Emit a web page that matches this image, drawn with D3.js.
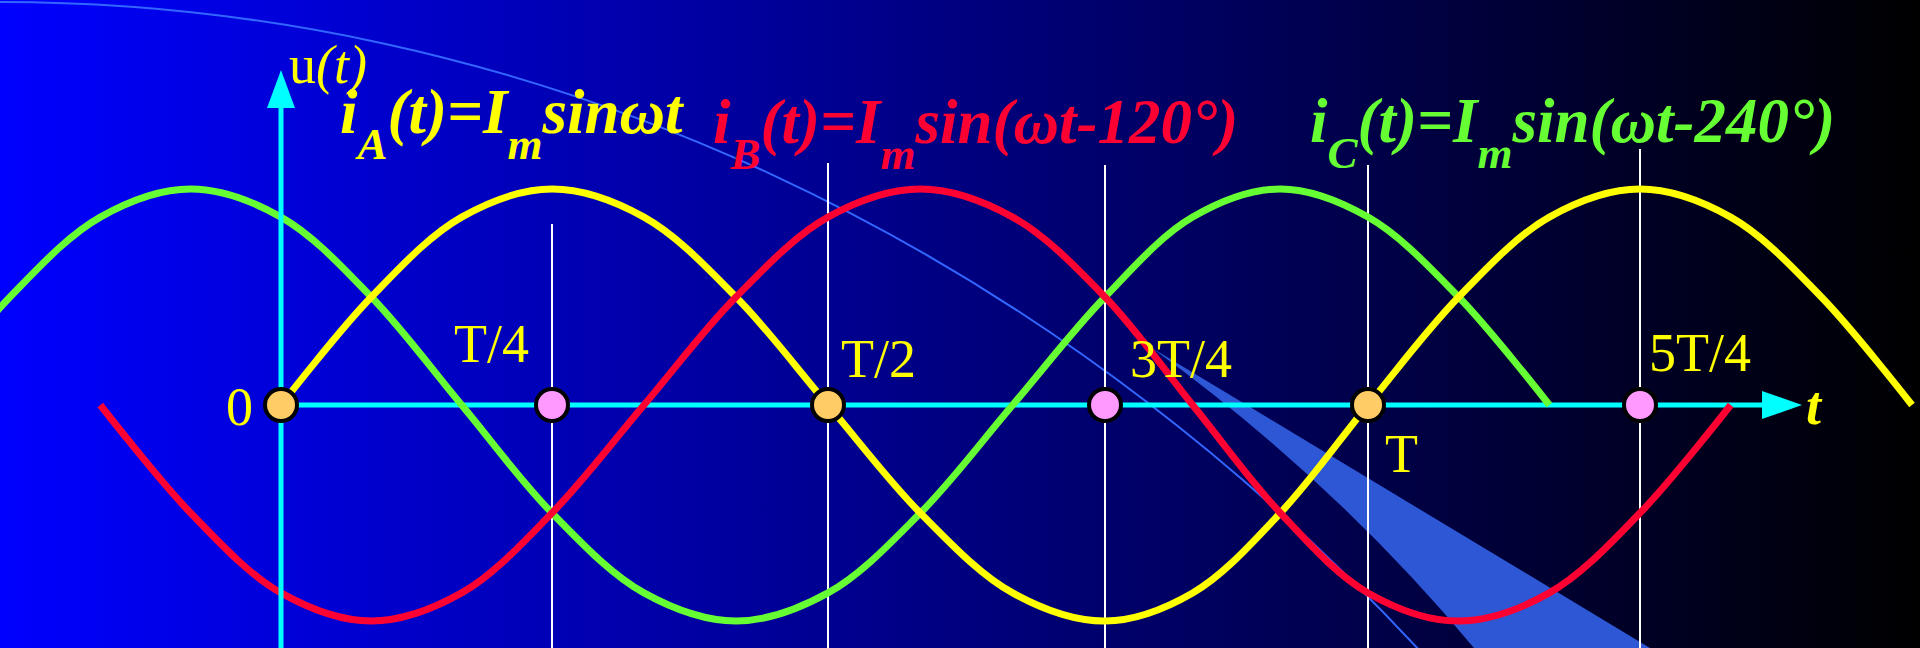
<!DOCTYPE html>
<html>
<head>
<meta charset="utf-8">
<script src="https://cdn.jsdelivr.net/npm/d3@7"></script>
<style>
  html, body { margin: 0; padding: 0; overflow: hidden; background: #000; }
</style>
</head>
<body>
<div id="chart"></div>
<script>
/* DATA */
// tick positions in periods, and their labels
const tTicks = [0, 0.25, 0.5, 0.75, 1, 1.25];
const tickLabels = ["0", "T/4", "T/2", "3T/4", "T", "5T/4"];

// the three phase currents, values read every T/12 (30 degrees)
const stepT = 1 / 12;
const phaseNames = ["A", "B", "C"];
const phaseShift = ["", "-120°", "-240°"];
const startA = 0;
const valuesA = [0, .5, .87, 1, .87, .5, 0, -.5, -.87, -1, -.87, -.5, 0, .5, .87, 1, .87, .5, 0];
const startB = -2 / 12;
const valuesB = [0, -.5, -.87, -1, -.87, -.5, 0, .5, .87, 1, .87, .5, 0, -.5, -.87, -1, -.87, -.5, 0];
const startC = -4 / 12;
const valuesC = [0, .5, .87, 1, .87, .5, 0, -.5, -.87, -1, -.87, -.5, 0, .5, .87, 1, .87, .5, 0];

/* LAYOUT */
const width = 1920, height = 648;
const axisY = 405, amp = 216;
const colors = { A: "#ffff00", B: "#ff0033", C: "#66ff33" };
const guideTop = [null, 224, 163, 165, 165, 149];
const labelOffset = {
  "0":    { dx: -28, dy: 20, anchor: "end" },
  "T/4":  { dx: -23, dy: -43, anchor: "end" },
  "T/2":  { dx: 13, dy: -28, anchor: "start" },
  "3T/4": { dx: 25, dy: -28, anchor: "start" },
  "T":    { dx: 17, dy: 67, anchor: "start" },
  "5T/4": { dx: 9, dy: -34, anchor: "start" }
};

const svg = d3.select("#chart")
  .append("svg")
  .attr("width", width)
  .attr("height", height);

const defs = svg.append("defs");
const grad = defs.append("linearGradient")
  .attr("id", "bg")
  .attr("x1", "0%").attr("x2", "100%")
  .attr("y1", "0%").attr("y2", "0%");
grad.append("stop").attr("offset", "0%").attr("stop-color", "#0000ff");
grad.append("stop").attr("offset", "100%").attr("stop-color", "#000000");

svg.append("rect")
  .attr("width", width)
  .attr("height", height)
  .attr("fill", "url(#bg)");

/* SCALES */
// the hand drawn grid is not perfectly even, so a polylinear scale
const xScale = d3.scaleLinear()
  .domain(tTicks)
  .range([281, 552, 828, 1105, 1368, 1640]);

const yScale = d3.scaleLinear()
  .domain([-1, 1])
  .range([axisY + amp, axisY - amp]);

/* BACKGROUND DECORATION */
svg.append("ellipse")
  .attr("cx", 0).attr("cy", 2467)
  .attr("rx", 2100).attr("ry", 2465)
  .attr("fill", "none")
  .attr("stroke", "#3366ff")
  .attr("stroke-width", 2);

svg.append("path")
  .attr("d", "M1152,348 L1650,648 L1474,648 Q1335,481 1152,348 Z")
  .attr("fill", "#2d57d4");

/* GUIDES */
svg.append("g")
  .selectAll("line")
  .data(tTicks.filter((d, i) => guideTop[i] != null))
  .join("line")
  .attr("x1", d => xScale(d))
  .attr("x2", d => xScale(d))
  .attr("y1", d => guideTop[tTicks.indexOf(d)])
  .attr("y2", height)
  .attr("stroke", "#ffffff")
  .attr("stroke-width", 2);

/* X AXIS */
const axisEnd = 1762;
svg.append("line")
  .attr("x1", xScale(0)).attr("x2", axisEnd)
  .attr("y1", axisY).attr("y2", axisY)
  .attr("stroke", "#00ffff")
  .attr("stroke-width", 5);
svg.append("path")
  .attr("d", `M${axisEnd},${axisY - 14} L${axisEnd + 40},${axisY} L${axisEnd},${axisY + 14} Z`)
  .attr("fill", "#00ffff");
svg.append("text")
  .attr("x", 1806).attr("y", 424)
  .attr("fill", "#ffff00")
  .style("font-family", "'Liberation Serif', 'Times New Roman', serif")
  .style("font-size", "54px")
  .style("font-weight", "bold")
  .style("font-style", "italic")
  .text("t");

/* CURVES */
const toPoints = (start, vals) => vals.map((v, i) => ({ t: start + i * stepT, v: v }));
const series = [
  { key: "C", pts: toPoints(startC, valuesC) },
  { key: "A", pts: toPoints(startA, valuesA) },
  { key: "B", pts: toPoints(startB, valuesB) }
];

const line = d3.line()
  .x(d => xScale(d.t))
  .y(d => yScale(d.v))
  .curve(d3.curveCatmullRom.alpha(0.5));

svg.append("g")
  .selectAll("path")
  .data(series)
  .join("path")
  .attr("d", d => line(d.pts))
  .attr("fill", "none")
  .attr("stroke", d => colors[d.key])
  .attr("stroke-width", 7);

/* Y AXIS */
const x0 = xScale(0);
svg.append("line")
  .attr("x1", x0).attr("x2", x0)
  .attr("y1", height).attr("y2", 106)
  .attr("stroke", "#00ffff")
  .attr("stroke-width", 5);
svg.append("path")
  .attr("d", `M${x0 - 14},108 L${x0},70 L${x0 + 14},108 Z`)
  .attr("fill", "#00ffff");

const uLabel = svg.append("text")
  .attr("x", 289).attr("y", 83)
  .attr("fill", "#ffff00")
  .style("font-family", "'Liberation Serif', 'Times New Roman', serif")
  .style("font-size", "54px");
uLabel.append("tspan").text("u");
uLabel.append("tspan").style("font-style", "italic").text("(t)");

/* POINTS ON THE AXIS */
svg.append("g")
  .selectAll("circle")
  .data(tTicks)
  .join("circle")
  .attr("cx", d => xScale(d))
  .attr("cy", axisY)
  .attr("r", 16)
  .attr("fill", (d, i) => i % 2 === 0 ? "#ffcc66" : "#ff99ff")
  .attr("stroke", "#000000")
  .attr("stroke-width", 4);

svg.append("g")
  .selectAll("text")
  .data(tTicks)
  .join("text")
  .attr("x", (d, i) => xScale(d) + labelOffset[tickLabels[i]].dx)
  .attr("y", (d, i) => axisY + labelOffset[tickLabels[i]].dy)
  .attr("text-anchor", (d, i) => labelOffset[tickLabels[i]].anchor)
  .attr("fill", "#ffff00")
  .style("font-family", "'Liberation Serif', 'Times New Roman', serif")
  .style("font-size", "54px")
  .text((d, i) => tickLabels[i]);

/* FORMULAS */
const formulaPos = [
  { x: 340, y: 133 },
  { x: 713, y: 143 },
  { x: 1310, y: 142 }
];

phaseNames.forEach((name, i) => {
  const tail = phaseShift[i] === "" ? "sinωt" : "sin(ωt" + phaseShift[i] + ")";
  const txt = svg.append("text")
    .attr("x", formulaPos[i].x)
    .attr("y", formulaPos[i].y)
    .attr("fill", colors[name])
    .style("font-family", "'Liberation Serif', 'Times New Roman', serif")
    .style("font-weight", "bold")
    .style("font-style", "italic")
    .style("font-size", "63px");
  txt.append("tspan").text("i");
  txt.append("tspan").attr("dy", 26).style("font-size", "45px").text(name);
  txt.append("tspan").attr("dy", -26).text("(t)=I");
  txt.append("tspan").attr("dy", 26).style("font-size", "45px").text("m");
  txt.append("tspan").attr("dy", -26).text(tail);
});
</script>
</body>
</html>
